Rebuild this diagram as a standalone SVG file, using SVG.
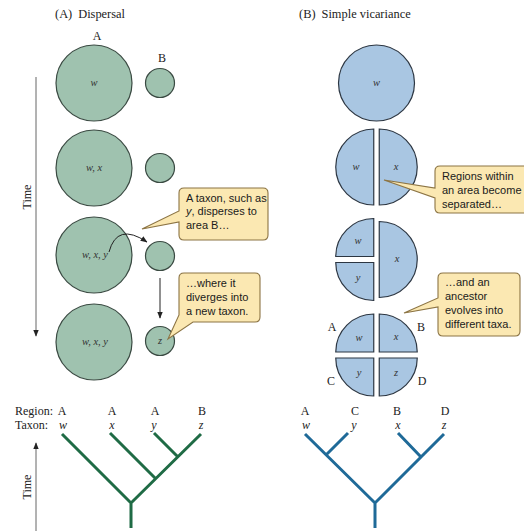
<svg xmlns="http://www.w3.org/2000/svg" width="524" height="531" viewBox="0 0 524 531">
<defs>
<style>
.serif{font-family:"Liberation Serif","Times New Roman",serif;fill:#222;}
.title{font-size:12.4px;}
.lab{font-size:12px;}
.it{font-family:"Liberation Serif","Times New Roman",serif;font-style:italic;font-size:10.5px;fill:#333;}
.tax{font-family:"Liberation Serif","Times New Roman",serif;font-style:italic;font-size:12px;fill:#222;}
.sans{font-family:"Liberation Sans",Arial,sans-serif;font-size:11px;fill:#1a1a1a;}
.g{fill:#9fc2af;stroke:#3a4a42;stroke-width:1.2;}
.b{fill:#a9c6e2;stroke:#2c3642;stroke-width:1.2;}
.call{fill:#fbe8b2;stroke:#8c7444;stroke-width:1.1;}
.ln{fill:none;stroke:#222;stroke-width:1;}
.tl{fill:none;stroke:#666;stroke-width:1;}
.gt{fill:none;stroke:#1f6b45;stroke-width:3;stroke-linecap:butt;stroke-linejoin:miter;}
.bt{fill:none;stroke:#1f6a98;stroke-width:3;stroke-linecap:butt;stroke-linejoin:miter;}
</style>
<marker id="ah" viewBox="0 0 10 10" refX="9" refY="5" markerWidth="7" markerHeight="7" orient="auto" markerUnits="userSpaceOnUse">
<path d="M0,1 L10,5 L0,9 Z" fill="#222"/>
</marker>
</defs>
<rect width="524" height="531" fill="#ffffff"/>

<!-- Titles -->
<text class="serif title" x="55" y="18">(A)<tspan dx="6">Dispersal</tspan></text>
<text class="serif title" x="299" y="18">(B)<tspan dx="6">Simple vicariance</tspan></text>
<text class="serif lab" x="97" y="40" text-anchor="middle">A</text>
<text class="serif lab" x="162" y="62" text-anchor="middle">B</text>

<!-- Time arrows -->
<g id="time-top">
<line class="tl" x1="36" y1="77" x2="36" y2="336" marker-end="url(#ah)"/>
<text class="serif lab" transform="translate(31,197) rotate(-90)" text-anchor="middle">Time</text>
</g>
<g id="time-bottom">
<line class="tl" x1="36" y1="531" x2="36" y2="443" marker-end="url(#ah)"/>
<text class="serif lab" transform="translate(31,487) rotate(-90)" text-anchor="middle">Time</text>
</g>

<!-- Dispersal nodes -->
<g id="dA1"><circle class="g" cx="94" cy="83" r="38"/><text class="it" x="94" y="86" text-anchor="middle">w</text></g>
<g id="dB1"><circle class="g" cx="160" cy="83" r="14.5"/></g>
<g id="dA2"><circle class="g" cx="94" cy="168" r="38"/><text class="it" x="94" y="171" text-anchor="middle">w, x</text></g>
<g id="dB2"><circle class="g" cx="160" cy="168" r="14.5"/></g>
<g id="dA3"><circle class="g" cx="94" cy="255" r="38"/><text class="it" x="95" y="258" text-anchor="middle">w, x, y</text></g>
<g id="dB3"><circle class="g" cx="160" cy="256" r="14.5"/></g>
<g id="dA4"><circle class="g" cx="94" cy="342" r="38"/><text class="it" x="95" y="345" text-anchor="middle">w, x, y</text></g>
<g id="dB4"><circle class="g" cx="160" cy="341" r="14.5"/><text class="it" x="160" y="344" text-anchor="middle">z</text></g>

<!-- Dispersal connectors -->
<g id="connectors-dispersal">
<path class="ln" d="M109,252 Q117,222 147,242" marker-end="url(#ah)"/>
<line class="ln" x1="160" y1="278" x2="160" y2="318" marker-end="url(#ah)"/>
</g>

<!-- Callouts -->
<g id="call1">
<path class="call" d="M184,188 H263 Q268,188 268,193 V235 Q268,240 263,240 H184 Q179,240 179,235 V222 L142,229 L179,211 V193 Q179,188 184,188 Z"/>
<text class="sans" x="186" y="202">A taxon, such as</text>
<text class="sans" x="186" y="215"><tspan font-style="italic">y</tspan>, disperses to</text>
<text class="sans" x="186" y="229">area B…</text>
</g>
<g id="call2">
<path class="call" d="M184,273 H255 Q260,273 260,278 V317 Q260,322 255,322 H193 L168,339 L179,315 V278 Q179,273 184,273 Z"/>
<text class="sans" x="186" y="287">…where it</text>
<text class="sans" x="186" y="301">diverges into</text>
<text class="sans" x="186" y="315">a new taxon.</text>
</g>

<!-- Vicariance nodes -->
<g id="v1"><circle class="b" cx="376.5" cy="83" r="38"/><text class="it" x="376.5" y="86" text-anchor="middle">w</text></g>
<g id="v2">
<path class="b" d="M373.75,129 A38,38 0 0 0 373.75,205 Z"/>
<path class="b" d="M379.25,129 A38,38 0 0 1 379.25,205 Z"/>
<text class="it" x="356" y="170" text-anchor="middle">w</text>
<text class="it" x="396" y="170" text-anchor="middle">x</text>
</g>
<g id="v3">
<path class="b" d="M373.75,218.5 A38,38 0 0 0 335.75,256.5 H373.75 Z"/>
<path class="b" d="M335.75,262.5 A38,38 0 0 0 373.75,300.5 V262.5 Z"/>
<path class="b" d="M379.25,221.5 A38,38 0 0 1 379.25,297.5 Z"/>
<text class="it" x="358" y="244" text-anchor="middle">w</text>
<text class="it" x="358" y="281" text-anchor="middle">y</text>
<text class="it" x="397" y="262" text-anchor="middle">x</text>
</g>
<g id="v4">
<path class="b" d="M373.75,314 A38,38 0 0 0 335.75,352 H373.75 Z"/>
<path class="b" d="M379.25,314 A38,38 0 0 1 417.25,352 H379.25 Z"/>
<path class="b" d="M335.75,358 A38,38 0 0 0 373.75,396 V358 Z"/>
<path class="b" d="M379.25,396 A38,38 0 0 0 417.25,358 H379.25 Z"/>
<text class="it" x="359" y="341" text-anchor="middle">w</text>
<text class="it" x="396" y="340" text-anchor="middle">x</text>
<text class="it" x="359" y="376" text-anchor="middle">y</text>
<text class="it" x="396" y="376" text-anchor="middle">z</text>
<text class="serif lab" x="332" y="331" text-anchor="middle">A</text>
<text class="serif lab" x="421" y="331" text-anchor="middle">B</text>
<text class="serif lab" x="331" y="385" text-anchor="middle">C</text>
<text class="serif lab" x="422" y="385" text-anchor="middle">D</text>
</g>

<g id="call3">
<path class="call" d="M440,166 H540 V213 H440 Q435,213 435,208 V198 L384,180 L435,188 V171 Q435,166 440,166 Z"/>
<text class="sans" x="442" y="180">Regions within</text>
<text class="sans" x="442" y="194">an area become</text>
<text class="sans" x="442" y="208">separated…</text>
</g>
<g id="call4">
<path class="call" d="M443,273 H515 Q520,273 520,278 V331 Q520,336 515,336 H443 Q438,336 438,331 V307 L404,313 L438,298 V278 Q438,273 443,273 Z"/>
<text class="sans" x="445" y="286">…and an</text>
<text class="sans" x="445" y="300">ancestor</text>
<text class="sans" x="445" y="314">evolves into</text>
<text class="sans" x="445" y="328">different taxa.</text>
</g>

<!-- Dispersal tree -->
<g id="tree-dispersal">
<text class="serif lab" x="15" y="415">Region:</text>
<text class="serif lab" x="15" y="429">Taxon:</text>
<text class="serif lab" x="62" y="415" text-anchor="middle">A</text>
<text class="serif lab" x="112" y="415" text-anchor="middle">A</text>
<text class="serif lab" x="155" y="415" text-anchor="middle">A</text>
<text class="serif lab" x="202" y="415" text-anchor="middle">B</text>
<text class="tax" x="63" y="429" text-anchor="middle">w</text>
<text class="tax" x="112" y="429" text-anchor="middle">x</text>
<text class="tax" x="154" y="429" text-anchor="middle">y</text>
<text class="tax" x="201" y="429" text-anchor="middle">z</text>
<path class="gt" d="M62,434 L131,503 L201,434 M131,503 V528 M110,433 L156,479 M154,433 L178,457"/>
</g>

<!-- Vicariance tree -->
<g id="tree-vicariance">
<text class="serif lab" x="305" y="415" text-anchor="middle">A</text>
<text class="serif lab" x="355" y="415" text-anchor="middle">C</text>
<text class="serif lab" x="397" y="415" text-anchor="middle">B</text>
<text class="serif lab" x="445" y="415" text-anchor="middle">D</text>
<text class="tax" x="306" y="429" text-anchor="middle">w</text>
<text class="tax" x="354" y="429" text-anchor="middle">y</text>
<text class="tax" x="398" y="429" text-anchor="middle">x</text>
<text class="tax" x="444" y="429" text-anchor="middle">z</text>
<path class="bt" d="M305,434 L375,503 L444,434 M375,503 V528 M348,433 L326,455 M398,433 L421,457"/>
</g>
</svg>
